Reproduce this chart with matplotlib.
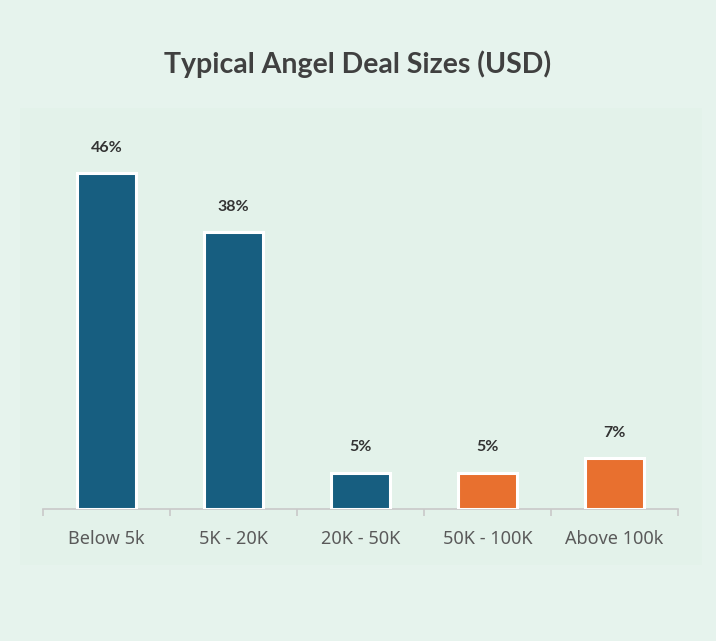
import numpy as np
import matplotlib.pyplot as plt
from matplotlib.patches import Rectangle

# Deal size buckets and share of deals (%)
categories = ["Below 5k", "5K - 20K", "20K - 50K", "50K - 100K", "Above 100k"]
shares = [46, 38, 5, 5, 7]
bar_colors = ["#175e80", "#175e80", "#175e80", "#e8702f", "#e8702f"]

BG = "#e6f3ed"
PANEL = "#e3f2ea"

fig = plt.figure(figsize=(7.16, 6.41), dpi=100)
fig.patch.set_facecolor(BG)

# faint inner panel behind the plot area
fig.add_artist(Rectangle((20 / 716, 1 - 565 / 641), (702 - 20) / 716, (565 - 108) / 641,
                         transform=fig.transFigure, facecolor=PANEL, edgecolor="none", zorder=0))

ax = fig.add_axes([43 / 716, 132 / 641, 635 / 716, 365 / 641])
ax.set_facecolor("none")

x = np.arange(len(categories))
bars = ax.bar(x, shares, width=0.47, color=bar_colors, edgecolor="white", linewidth=2.2, zorder=3)

for xi, v in zip(x, shares):
    ax.annotate(f"{v}%", (xi, v), xytext=(0, 13), textcoords="offset points",
                ha="center", va="bottom", fontsize=11.5, fontweight="bold",
                color="#333333", family="Lato")

ax.set_xlim(-0.5, len(categories) - 0.5)
ax.set_ylim(0, 50)
ax.set_xticks(x)
ax.set_xticklabels(categories, fontsize=13, color="#5a5a5a", family="Noto Sans")
ax.tick_params(axis="x", which="major", length=0, pad=15)
ax.set_xticks(np.arange(-0.5, len(categories)), minor=True)
ax.tick_params(axis="x", which="minor", length=5, width=1.2, color="#c9c9c9")
ax.set_yticks([])

for side in ["top", "left", "right"]:
    ax.spines[side].set_visible(False)
ax.spines["bottom"].set_color("#c9c9c9")
ax.spines["bottom"].set_linewidth(1.2)

fig.text(0.5, 1 - 64 / 641, "Typical Angel Deal Sizes (USD)", ha="center", va="center",
         fontsize=20.5, fontweight="bold", color="#404040", family="Lato")

fig.savefig("out.png", dpi=100, facecolor=fig.get_facecolor())
